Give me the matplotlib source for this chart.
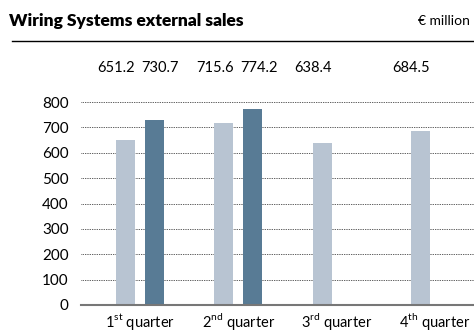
import matplotlib
matplotlib.use('Agg')
import matplotlib.pyplot as plt
import numpy as np

plt.rcParams['font.family'] = ['Lato', 'DejaVu Sans']
plt.rcParams['mathtext.fontset'] = 'custom'
plt.rcParams['mathtext.rm'] = 'Lato'

quarters = ['1$^{\\mathrm{st}}$ quarter', '2$^{\\mathrm{nd}}$ quarter',
            '3$^{\\mathrm{rd}}$ quarter', '4$^{\\mathrm{th}}$ quarter']
sales_prev = [651.2, 715.6, 638.4, 684.5]
sales_curr = [730.7, 774.2]
yticks = [0, 100, 200, 300, 400, 500, 600, 700, 800]

LIGHT = '#b8c4d2'
DARK = '#587b95'

fig = plt.figure(figsize=(4.74, 3.33), dpi=100)
ax = fig.add_axes([81 / 474, 28 / 333, 393 / 474, 205.5 / 333])

x = np.arange(len(quarters))
w = 0.193
off = 0.1475
bars_prev = ax.bar(x - off, sales_prev, width=w, color=LIGHT, zorder=3)
bars_curr = ax.bar(x[:len(sales_curr)] + off, sales_curr, width=w, color=DARK, zorder=3)

ax.set_xlim(-0.60, 3.398)
ax.set_ylim(0, 810)
ax.set_yticks(yticks)
ax.set_yticklabels([str(v) for v in yticks], fontsize=11)
ax.set_xticks(x)
ax.set_xticklabels(quarters, fontsize=10.5)
ax.tick_params(length=0, pad=9, axis='y')
ax.tick_params(length=0, pad=4, axis='x')

ax.yaxis.grid(True, linestyle=(0, (0.8, 1.0)), color='#333333', linewidth=0.7, zorder=0)
ax.set_axisbelow(True)
for s in ['top', 'right', 'left']:
    ax.spines[s].set_visible(False)
ax.spines['bottom'].set_color('#777777')
ax.spines['bottom'].set_linewidth(1.5)
ax.spines['bottom'].set_zorder(4)

# value row above the plot area
for b, v in zip(bars_prev, sales_prev):
    ax.annotate(f'{v:.1f}', (b.get_x() + b.get_width() / 2, 1), xycoords=('data', 'axes fraction'),
                xytext=(-9, 32), textcoords='offset pixels', ha='center', va='center', fontsize=10.5)
for b, v in zip(bars_curr, sales_curr):
    ax.annotate(f'{v:.1f}', (b.get_x() + b.get_width() / 2, 1), xycoords=('data', 'axes fraction'),
                xytext=(6, 32), textcoords='offset pixels', ha='center', va='center', fontsize=10.5)

fig.text(9 / 474, 1 - 21 / 333, 'Wiring Systems external sales', fontsize=12.5,
         fontweight='heavy', ha='left', va='center')
fig.text(470 / 474, 1 - 21 / 333, '€ million', fontsize=10, ha='right', va='center')
fig.add_artist(plt.Line2D([12 / 474, 1], [1 - 41 / 333, 1 - 41 / 333], color='black', linewidth=1))

fig.savefig('out.png', dpi=100)
